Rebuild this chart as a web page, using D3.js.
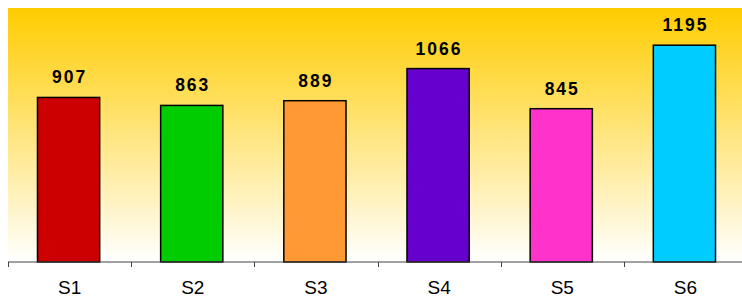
<!DOCTYPE html>
<html>
<head>
<meta charset="utf-8">
<script src="https://cdn.jsdelivr.net/npm/d3@7"></script>
<style>
  body { margin: 0; background: #fff; }
  svg { display: block; font-family: Arial, "Liberation Sans", sans-serif; }
</style>
</head>
<body>
<svg id="chart" width="742" height="298"></svg>
<script>
var categories = ["S1", "S2", "S3", "S4", "S5", "S6"];
var values = [907, 863, 889, 1066, 845, 1195];
var barColors = ["#CC0000", "#00CC00", "#FF9933", "#6600CC", "#FF33CC", "#00CCFF"];
var yMax = 1400;

var svg = d3.select("#chart"),
    margin = {top: 8, right: -5, bottom: 36, left: 8},
    width = +svg.attr("width") - margin.left - margin.right,
    height = +svg.attr("height") - margin.top - margin.bottom;

var defs = svg.append("defs");
var grad = defs.append("linearGradient")
    .attr("id", "bg")
    .attr("x1", 0).attr("y1", 0).attr("x2", 0).attr("y2", 1);
grad.append("stop").attr("offset", "0%").attr("stop-color", "#FFCC00");
grad.append("stop").attr("offset", "100%").attr("stop-color", "#FFFFFF");

var g = svg.append("g")
    .attr("transform", "translate(" + margin.left + "," + margin.top + ")");

g.append("rect")
    .attr("width", width)
    .attr("height", height)
    .attr("fill", "url(#bg)");

var x = d3.scaleBand().domain(categories).range([0, width]).paddingInner(0).paddingOuter(0);
var y = d3.scaleLinear().domain([0, yMax]).range([height, 0]);

var barW = x.bandwidth() * 0.505;

g.selectAll(".bar")
    .data(values)
    .enter().append("rect")
    .attr("class", "bar")
    .attr("x", function(d, i) { return x(categories[i]) + (x.bandwidth() - barW) / 2 - 1; })
    .attr("y", function(d) { return y(d); })
    .attr("width", barW)
    .attr("height", function(d) { return height - y(d); })
    .attr("fill", function(d, i) { return barColors[i]; })
    .attr("stroke", "#000")
    .attr("stroke-width", 1.5);

g.selectAll(".label")
    .data(values)
    .enter().append("text")
    .attr("class", "label")
    .attr("x", function(d, i) { return x(categories[i]) + x.bandwidth() / 2; })
    .attr("y", function(d) { return y(d) - 14; })
    .attr("text-anchor", "middle")
    .attr("font-size", "17.5px")
    .attr("font-weight", "bold")
    .attr("letter-spacing", "2px")
    .attr("fill", "#000")
    .text(function(d) { return d; });

// x axis: line with ticks at band boundaries
var axis = g.append("g").attr("transform", "translate(0," + height + ")");
axis.append("line")
    .attr("x1", 0).attr("x2", width)
    .attr("y1", 0).attr("y2", 0)
    .attr("stroke", "#444").attr("stroke-width", 1);
axis.selectAll(".tick")
    .data(categories)
    .enter().append("line")
    .attr("x1", function(d) { return Math.round(x(d)) + 0.5; })
    .attr("x2", function(d) { return Math.round(x(d)) + 0.5; })
    .attr("y1", 0).attr("y2", 5)
    .attr("stroke", "#444");
axis.selectAll(".cat")
    .data(categories)
    .enter().append("text")
    .attr("x", function(d) { return x(d) + x.bandwidth() / 2; })
    .attr("y", 32)
    .attr("text-anchor", "middle")
    .attr("font-size", "19px")
    .attr("fill", "#000")
    .text(function(d) { return d; });
</script>
</body>
</html>
